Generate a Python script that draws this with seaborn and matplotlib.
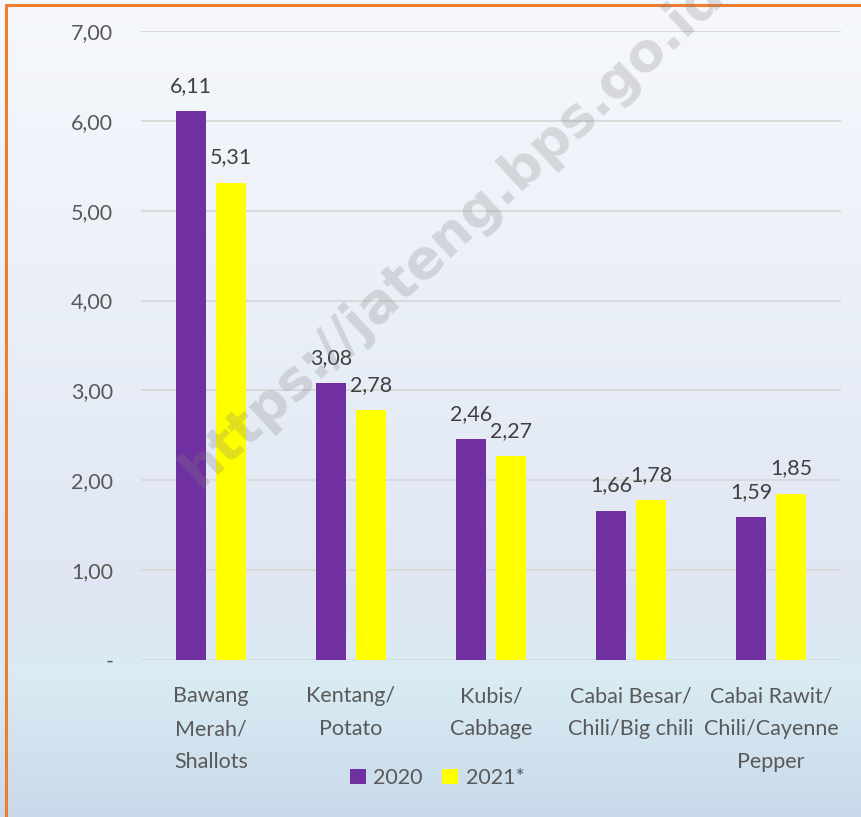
import numpy as np
import pandas as pd
import matplotlib
matplotlib.use("Agg")
import matplotlib.pyplot as plt
from matplotlib.colors import LinearSegmentedColormap
import seaborn as sns

# data
categories = ["Bawang\nMerah/\nShallots", "Kentang/\nPotato", "Kubis/\nCabbage",
              "Cabai Besar/\nChili/Big chili", "Cabai Rawit/\nChili/Cayenne\nPepper"]
years = ["2020", "2021*"]
values_2020 = [6.11, 3.08, 2.46, 1.66, 1.59]
values_2021 = [5.31, 2.78, 2.27, 1.78, 1.85]
yticks = [0, 1, 2, 3, 4, 5, 6, 7]

df = pd.DataFrame({
    "category": categories * 2,
    "year": [years[0]] * 5 + [years[1]] * 5,
    "value": values_2020 + values_2021,
})

sns.set_theme(style="white")
plt.rcParams["font.family"] = ["Lato", "DejaVu Sans"]

W, H = 861, 817
fig = plt.figure(figsize=(W / 100, H / 100), dpi=100)

# soft vertical gradient behind everything
bg = fig.add_axes([0, 0, 1, 1], zorder=-10)
cmap = LinearSegmentedColormap.from_list("bg", [
    (0.0, "#F6F8FC"), (0.35, "#EBF0F8"), (0.75, "#DFE6F3"),
    (0.83, "#D9ECF3"), (1.0, "#C9D9EA")])
grad = np.linspace(0, 1, 256).reshape(-1, 1)
bg.imshow(grad, aspect="auto", cmap=cmap, extent=[0, 1, 0, 1])
bg.axis("off")

ax = fig.add_axes([141 / W, 1 - 660 / H, 700 / W, 629 / H])
ax.patch.set_alpha(0)

purple, yellow = "#7030A0", "#FFFF00"
sns.barplot(data=df, x="category", y="value", hue="year", palette=[purple, yellow],
            saturation=1, width=0.57, gap=0.23, linewidth=0, ax=ax, zorder=3)

ax.set_ylim(0, 7)
ax.set_yticks(yticks)
ax.set_yticklabels(["-" if t == 0 else f"{t:.2f}".replace(".", ",") for t in yticks])
ax.grid(axis="y", color="#D9D9D9", linewidth=1.4, zorder=0)
ax.set_axisbelow(True)
for s in ax.spines.values():
    s.set_visible(False)
ax.axhline(0, color="#D9D9D9", linewidth=2, zorder=2)
ax.tick_params(axis="y", length=0, pad=20, labelsize=15.5, labelcolor="#595959")
ax.tick_params(axis="x", length=0, pad=19, labelsize=15.5, labelcolor="#595959")
for lab in ax.get_xticklabels():
    lab.set_linespacing(1.8)
ax.set_xlabel("")
ax.set_ylabel("")

for cont in ax.containers:
    ax.bar_label(cont, labels=[f"{b.get_height():.2f}".replace(".", ",") for b in cont],
                 padding=11, fontsize=15.5, color="#404040")

leg = ax.legend(loc="center", bbox_to_anchor=(437 / W, 1 - 778 / H),
                bbox_transform=fig.transFigure, ncol=2, frameon=False,
                fontsize=15.5, handlelength=0.75, handleheight=0.75,
                handletextpad=0.35, columnspacing=0.9)
for t in leg.get_texts():
    t.set_color("#595959")

# watermark (runs off the top edge, as in the original)
fig.text(452 / W, 1 - 232 / H, "https://jateng.bps.go.id", rotation=43,
         ha="center", va="center", rotation_mode="anchor", fontsize=39,
         fontweight="bold", family="DejaVu Sans", color="#7F7F7F", alpha=0.25)

# orange frame (left and top edges visible)
fig.add_artist(plt.Line2D([6 / W, 6 / W], [0, 1 - 5 / H], transform=fig.transFigure,
                          color="#ED7D31", linewidth=2.2))
fig.add_artist(plt.Line2D([6 / W, 1], [1 - 5 / H, 1 - 5 / H], transform=fig.transFigure,
                          color="#ED7D31", linewidth=2.2))

fig.savefig("out.png", dpi=100)
